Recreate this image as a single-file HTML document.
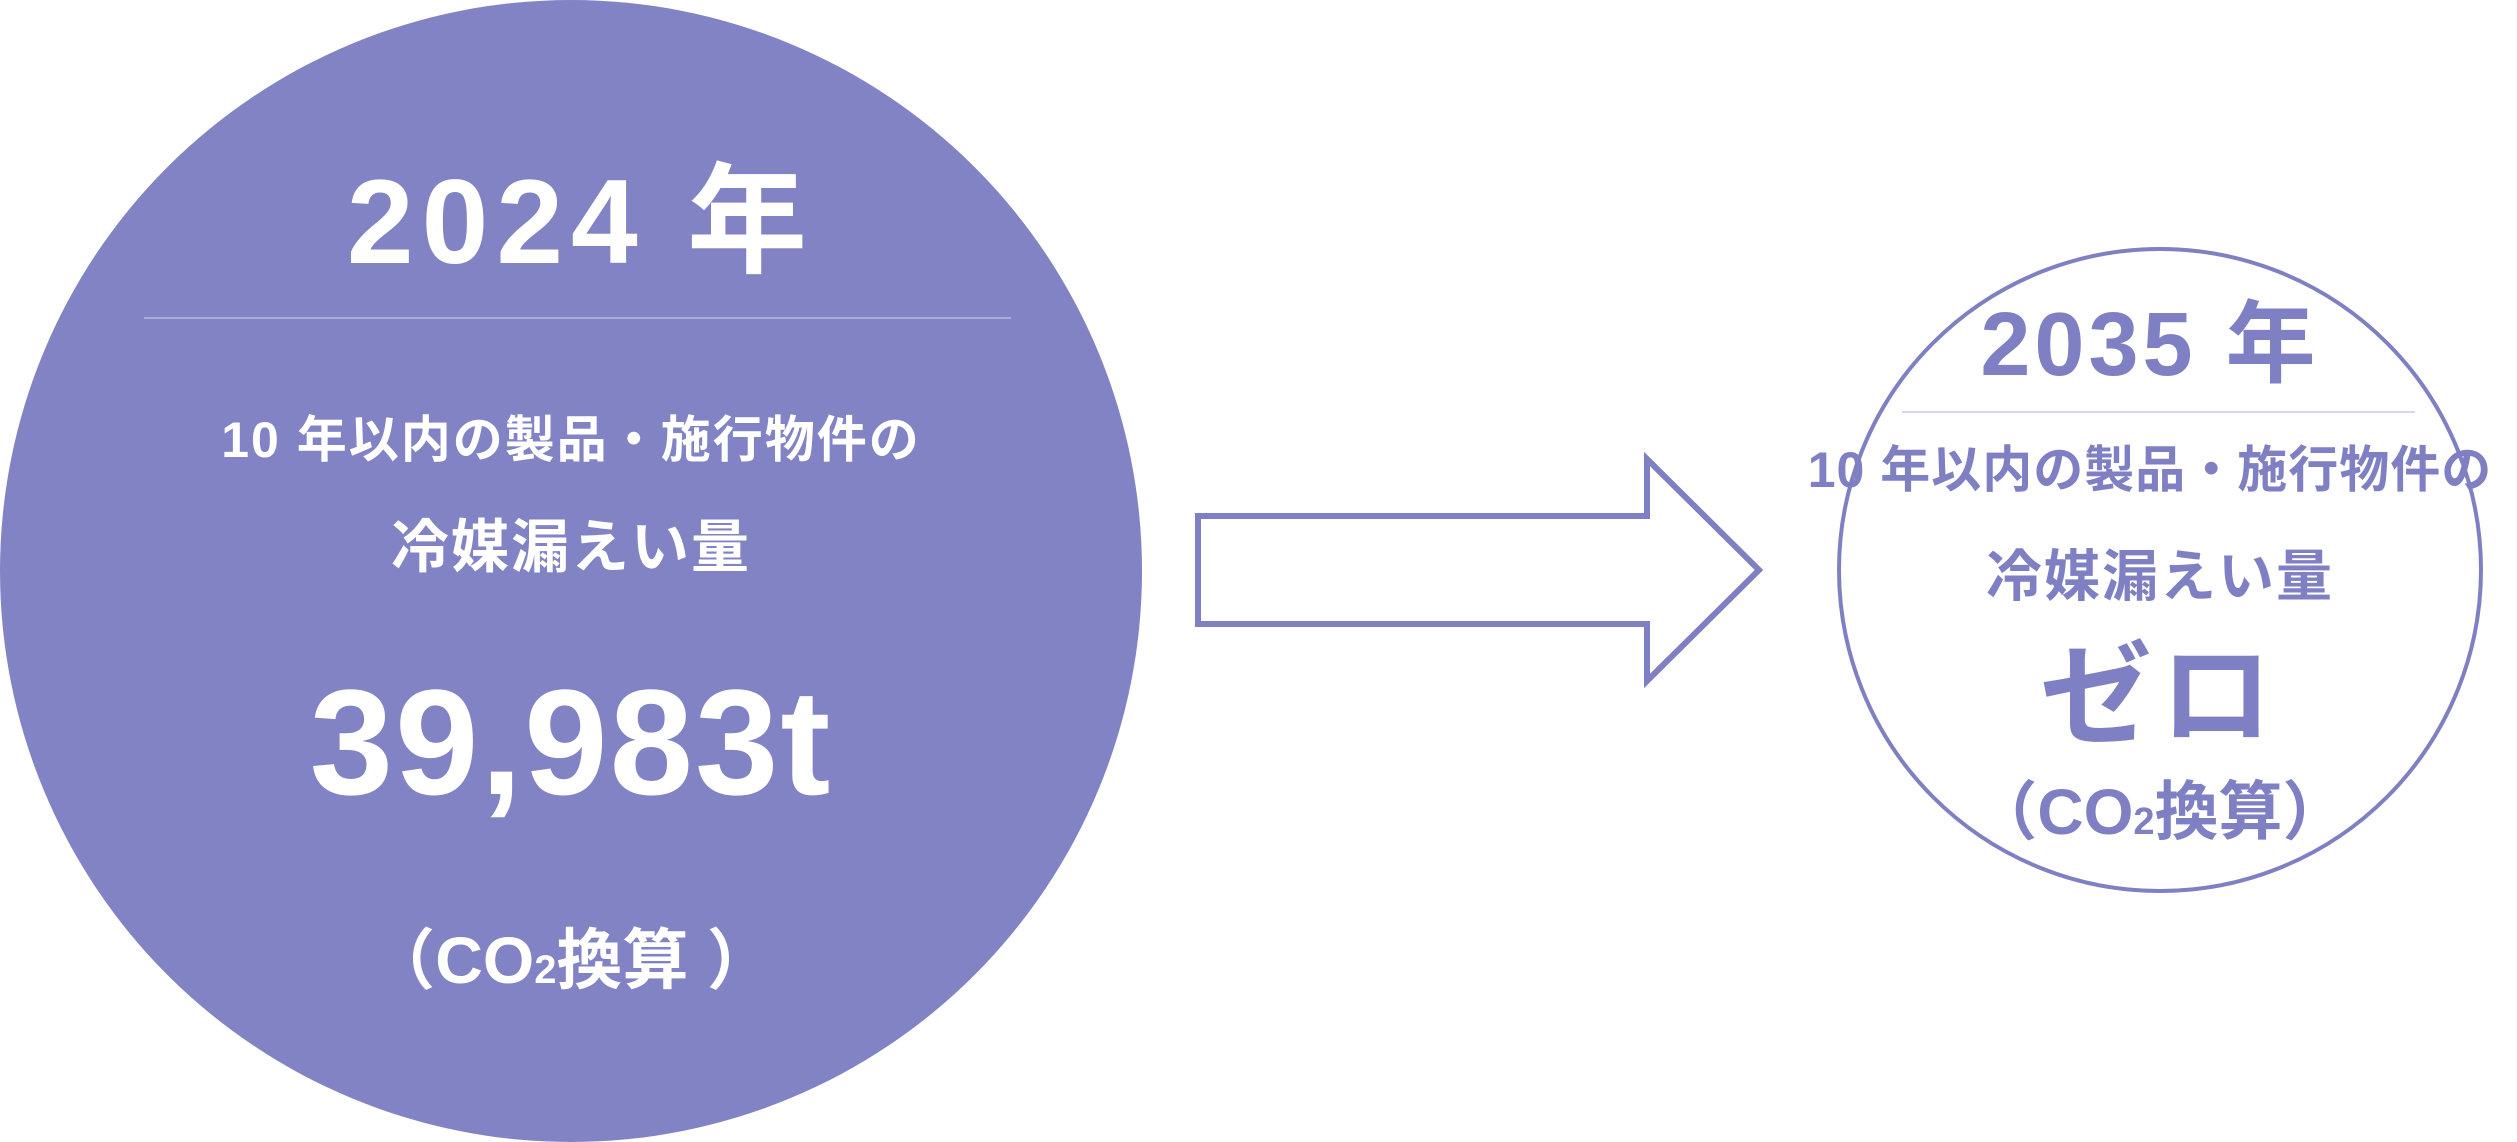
<!DOCTYPE html>
<html><head><meta charset="utf-8"><style>
html,body{margin:0;padding:0;background:#fff;}
#c{position:relative;width:2517px;height:1142px;overflow:hidden;font-family:"Liberation Sans","Noto Sans CJK JP",sans-serif;font-weight:bold;}
.t{position:absolute;text-align:center;white-space:nowrap;line-height:1;transform:translateY(-50%);}
.w{color:#fff;}
.p{color:#7f80c3;}
</style></head><body><div id="c">
<svg width="2517" height="1142" style="position:absolute;left:0;top:0">
<circle cx="571" cy="571" r="571" fill="#8283c5"/>
<line x1="144" y1="318" x2="1011" y2="318" stroke="#a9aad8" stroke-width="2"/>
<circle cx="2160" cy="570" r="321" fill="#fff" stroke="#7f80c3" stroke-width="4"/>
<line x1="1902" y1="412" x2="2415" y2="412" stroke="#d6d7ee" stroke-width="2"/>
<polygon points="1198,516 1647,516 1647,459 1759,570 1647,681 1647,624 1198,624" fill="#fff" stroke="#7f80c3" stroke-width="6"/>
</svg>
<div class="t w" style="left:0;width:1142px;top:222px;font-size:120px;letter-spacing:8px;padding-left:10px;">2024 年</div>
<div class="t w" style="left:0;width:1142px;top:440px;font-size:50px;letter-spacing:2px;">10 年以内の製品・施行物件の</div>
<div class="t w" style="left:0;width:1142px;top:548px;font-size:58px;letter-spacing:2px;">冷媒漏えい量</div>
<div class="t w" style="left:0;width:1142px;top:742px;font-size:150px;letter-spacing:2px;">39,983t</div>
<div class="t w" style="left:0;width:1142px;top:960px;font-size:66px;">（CO<span style="font-size:40px">2</span>換算 ）</div>
<div class="t p" style="left:1828px;width:644px;top:345px;font-size:90px;letter-spacing:4px;">2035 年</div>
<div class="t p" style="left:1770px;width:760px;top:470px;font-size:50px;letter-spacing:1px;">10 年以内の製品・施行物件の</div>
<div class="t p" style="left:1838px;width:644px;top:577px;font-size:56px;letter-spacing:2px;">冷媒漏えい量</div>
<div class="t p" style="left:1838px;width:644px;top:697px;font-size:112px;letter-spacing:8px;">ゼロ</div>
<div class="t p" style="left:1838px;width:644px;top:812px;font-size:64px;">（CO<span style="font-size:38px">2</span>換算）</div>
</div></body></html>
